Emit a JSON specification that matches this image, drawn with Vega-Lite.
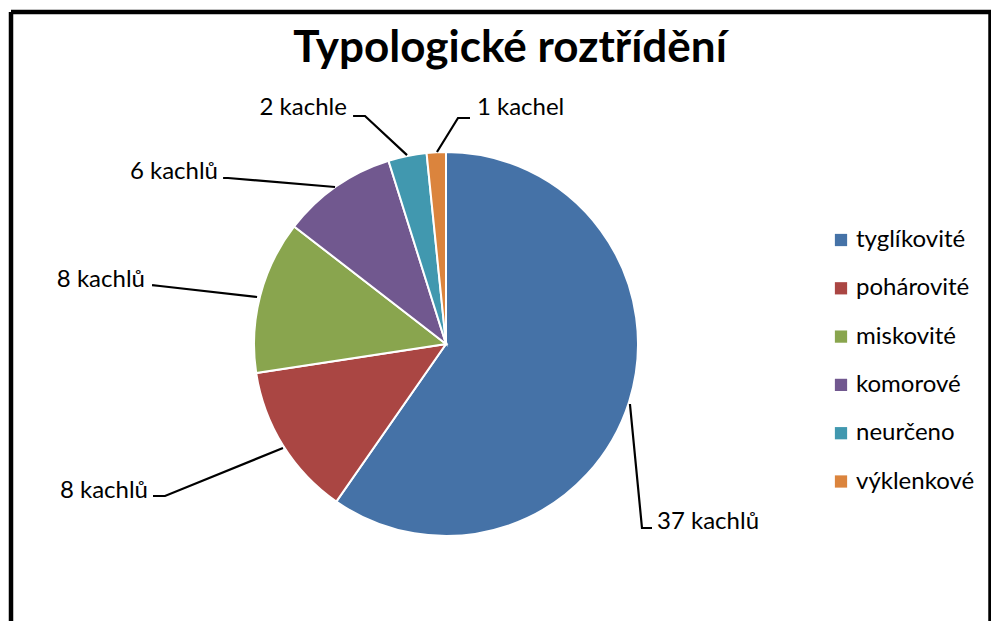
{
  "$schema": "https://vega.github.io/schema/vega-lite/v6.json",
  "width": 1000,
  "height": 640,
  "autosize": {"type": "none"},
  "padding": {"left": 11, "top": 12, "right": -20, "bottom": -31},
  "background": "white",
  "config": {
    "view": {"stroke": null},
    "font": "Lato"
  },
  "datasets": {
    "slices": [
      {"typ": "tyglíkovité", "count": 37, "ord": 1},
      {"typ": "pohárovité", "count": 8, "ord": 2},
      {"typ": "miskovité", "count": 8, "ord": 3},
      {"typ": "komorové", "count": 6, "ord": 4},
      {"typ": "neurčeno", "count": 2, "ord": 5},
      {"typ": "výklenkové", "count": 1, "ord": 6}
    ],
    "leaders": [
      {"g": "a", "i": 1, "u": 0.958, "v": -0.3125},
      {"g": "a", "i": 2, "u": 1.0208, "v": -0.9583},
      {"g": "a", "i": 3, "u": 1.0729, "v": -0.9583},
      {"g": "b", "i": 1, "u": -0.849, "v": -0.5417},
      {"g": "b", "i": 2, "u": -1.4635, "v": -0.7917},
      {"g": "b", "i": 3, "u": -1.526, "v": -0.7917},
      {"g": "c", "i": 1, "u": -0.984, "v": 0.2448},
      {"g": "c", "i": 2, "u": -1.4896, "v": 0.302},
      {"g": "c", "i": 3, "u": -1.531, "v": 0.307},
      {"g": "d", "i": 1, "u": -0.578, "v": 0.8177},
      {"g": "d", "i": 2, "u": -1.135, "v": 0.8646},
      {"g": "d", "i": 3, "u": -1.161, "v": 0.8646},
      {"g": "e", "i": 1, "u": -0.203, "v": 0.984},
      {"g": "e", "i": 2, "u": -0.4219, "v": 1.1875},
      {"g": "e", "i": 3, "u": -0.484, "v": 1.1875},
      {"g": "f", "i": 1, "u": -0.047, "v": 1.0},
      {"g": "f", "i": 2, "u": 0.0625, "v": 1.177},
      {"g": "f", "i": 3, "u": 0.125, "v": 1.177}
    ],
    "labels": [
      {"text": "37 kachlů", "u": 1.099, "v": -0.927, "side": "left"},
      {"text": "8 kachlů", "u": -1.552, "v": -0.7656, "side": "right"},
      {"text": "8 kachlů", "u": -1.568, "v": 0.333, "side": "right"},
      {"text": "6 kachlů", "u": -1.1875, "v": 0.896, "side": "right"},
      {"text": "2 kachle", "u": -0.516, "v": 1.229, "side": "right"},
      {"text": "1 kachel", "u": 0.161, "v": 1.229, "side": "left"}
    ],
    "title": [
      {"text": "Typologické roztřídění", "u": 0.3333, "v": 1.46875}
    ],
    "frameV": [{"edge": -2.265625}, {"edge": 2.836}],
    "frameTop": [{"edge": 1.729167}]
  },
  "layer": [
    {
      "data": {"name": "slices"},
      "mark": {"type": "arc", "radius": 192, "stroke": "white", "strokeWidth": 2},
      "encoding": {
        "x": {"datum": 0, "type": "quantitative", "scale": {"domain": [-2.265625, 2.942708], "nice": false, "zero": false}, "axis": null},
        "y": {"datum": 0, "type": "quantitative", "scale": {"domain": [-1.604167, 1.729167], "nice": false, "zero": false}, "axis": null},
        "theta": {"field": "count", "type": "quantitative", "stack": true},
        "order": {"field": "ord", "type": "quantitative"},
        "color": {
          "field": "typ",
          "type": "nominal",
          "sort": ["tyglíkovité", "pohárovité", "miskovité", "komorové", "neurčeno", "výklenkové"],
          "scale": {
            "domain": ["tyglíkovité", "pohárovité", "miskovité", "komorové", "neurčeno", "výklenkové"],
            "range": ["#4572A7", "#AA4643", "#89A54E", "#71588F", "#4198AF", "#DB843D"]
          },
          "legend": {
            "title": null,
            "orient": "none",
            "legendX": 818,
            "legendY": 216,
            "symbolType": "square",
            "symbolSize": 150,
            "symbolStrokeWidth": 0,
            "labelFontSize": 24,
            "labelFont": "Lato",
            "labelColor": "black",
            "labelOffset": 3,
            "rowPadding": 24.3
          }
        }
      }
    },
    {
      "data": {"name": "frameV"},
      "mark": {"type": "rule", "color": "black", "strokeWidth": 4.5},
      "encoding": {"x": {"field": "edge", "type": "quantitative"}}
    },
    {
      "data": {"name": "frameTop"},
      "mark": {"type": "rule", "color": "black", "strokeWidth": 4.5},
      "encoding": {"y": {"field": "edge", "type": "quantitative"}}
    },
    {
      "data": {"name": "leaders"},
      "mark": {"type": "line", "color": "black", "strokeWidth": 2.2},
      "encoding": {
        "x": {"field": "u", "type": "quantitative"},
        "y": {"field": "v", "type": "quantitative"},
        "detail": {"field": "g"},
        "order": {"field": "i", "type": "quantitative"}
      }
    },
    {
      "data": {"name": "labels"},
      "transform": [{"filter": "datum.side === 'left'"}],
      "mark": {"type": "text", "align": "left", "baseline": "middle", "fontSize": 24, "font": "Lato", "color": "black"},
      "encoding": {
        "x": {"field": "u", "type": "quantitative"},
        "y": {"field": "v", "type": "quantitative"},
        "text": {"field": "text"}
      }
    },
    {
      "data": {"name": "labels"},
      "transform": [{"filter": "datum.side === 'right'"}],
      "mark": {"type": "text", "align": "right", "baseline": "middle", "fontSize": 24, "font": "Lato", "color": "black"},
      "encoding": {
        "x": {"field": "u", "type": "quantitative"},
        "y": {"field": "v", "type": "quantitative"},
        "text": {"field": "text"}
      }
    },
    {
      "data": {"name": "title"},
      "mark": {"type": "text", "align": "center", "baseline": "alphabetic", "fontSize": 44, "fontWeight": "bold", "font": "Lato", "color": "black"},
      "encoding": {
        "x": {"field": "u", "type": "quantitative"},
        "y": {"field": "v", "type": "quantitative"},
        "text": {"field": "text"}
      }
    }
  ]
}
